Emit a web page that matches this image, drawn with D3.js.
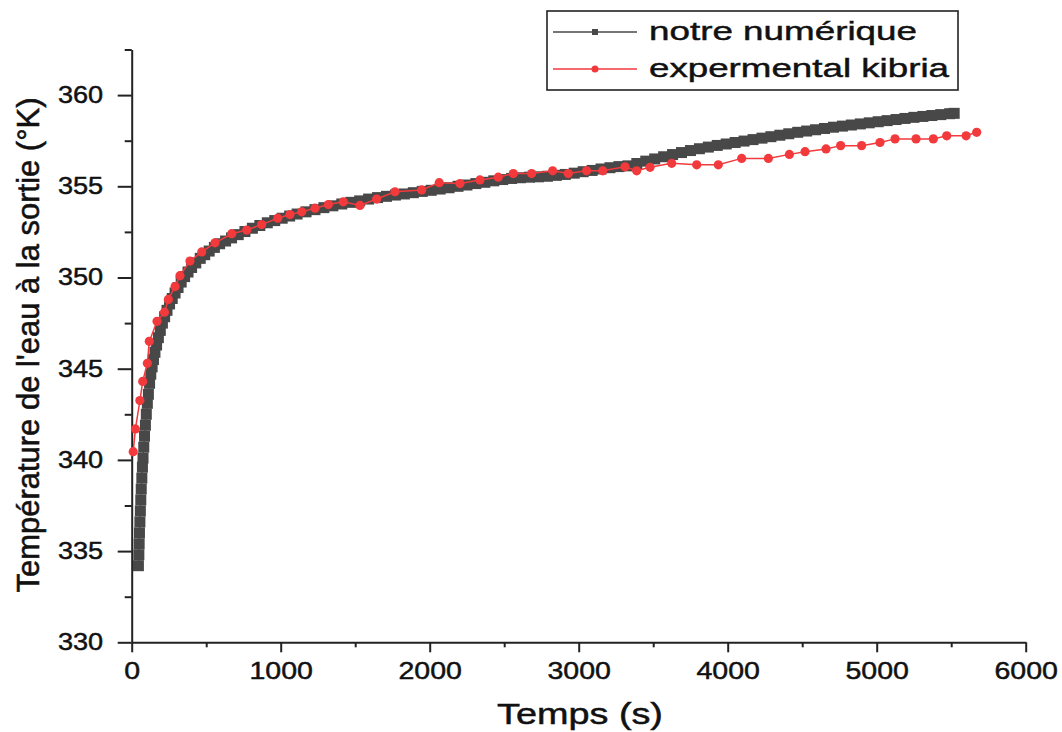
<!DOCTYPE html>
<html>
<head>
<meta charset="utf-8">
<script src="https://cdn.jsdelivr.net/npm/d3@7"></script>
<style>
  body { margin: 0; background: #fff; }
  text { font-family: "Liberation Sans", Arial, sans-serif; fill: #111; stroke: #111; stroke-width: 0.45px; }
</style>
</head>
<body>
<svg id="chart" width="1062" height="732"></svg>
<script>
// ---------------- DATA ----------------
const seriesNames = ["notre numérique", "expermental kibria"];
const xTitle = "Temps (s)";
const yTitle = "Température de l'eau à la sortie (°K)";
const xTicks = [0, 1000, 2000, 3000, 4000, 5000, 6000];
const xMinorTicks = [500, 1500, 2500, 3500, 4500, 5500];
const yTicks = [330, 335, 340, 345, 350, 355, 360];
const yMinorTicks = [332.5, 337.5, 342.5, 347.5, 352.5, 357.5, 362.5];

// numerical series (notre numérique)
const numTime = [45, 48, 50, 52, 55, 58, 61, 64, 68, 72, 76, 81, 86, 92, 98, 105, 112, 120, 128, 137,
  146, 156, 167, 179, 192, 206, 221, 237, 254, 272, 291, 311, 332, 355, 378, 402, 430, 460, 490,
  520, 555, 590, 630, 670, 715, 760, 810, 860, 910, 960, 1010, 1060, 1110, 1170, 1230, 1290, 1350, 1410, 1470,
  1530, 1590, 1650, 1710, 1770, 1830, 1890, 1950, 2010, 2070, 2130, 2190, 2250, 2310, 2370, 2430, 2490, 2550, 2610, 2670,
  2730, 2790, 2850, 2910, 2970, 3030, 3090, 3150, 3210, 3270, 3330, 3390, 3450, 3510, 3570, 3630, 3690, 3750, 3810, 3870,
  3930, 3990, 4050, 4110, 4170, 4230, 4290, 4350, 4410, 4470, 4530, 4590, 4650, 4710, 4770, 4830, 4890, 4950, 5010, 5070,
  5130, 5190, 5250, 5310, 5370, 5430, 5490, 5520];
const numTemp = [334.2, 334.8, 335.4, 336.0, 336.6, 337.2, 337.8, 338.4, 339.0, 339.6, 340.1, 340.7, 341.3, 341.9, 342.5, 343.1, 343.6, 344.2, 344.7, 345.1,
  345.5, 345.9, 346.3, 346.7, 347.1, 347.5, 347.85, 348.2, 348.55, 348.85, 349.15, 349.45, 349.75, 350.05, 350.3, 350.55, 350.8, 351.05, 351.25,
  351.45, 351.65, 351.85, 352.0, 352.17, 352.35, 352.52, 352.7, 352.85, 353.0, 353.12, 353.25, 353.37, 353.48, 353.6, 353.72, 353.83, 353.93, 354.03, 354.12,
  354.2, 354.3, 354.38, 354.45, 354.52, 354.58, 354.65, 354.72, 354.78, 354.85, 354.92, 355.0, 355.07, 355.15, 355.22, 355.3, 355.37, 355.43, 355.47, 355.5,
  355.52, 355.55, 355.6, 355.65, 355.72, 355.8, 355.87, 355.95, 356.02, 356.08, 356.12, 356.25, 356.38, 356.5, 356.62, 356.74, 356.85, 356.96, 357.06, 357.15,
  357.24, 357.32, 357.4, 357.48, 357.56, 357.64, 357.72, 357.8, 357.88, 357.96, 358.03, 358.1, 358.17, 358.24, 358.3, 358.36, 358.42, 358.48, 358.54, 358.6,
  358.66, 358.72, 358.78, 358.83, 358.88, 358.93, 358.98, 359.0];

// experimental series (expermental kibria)
const expTime = [10, 25, 55, 74, 105, 118, 170, 220, 246, 291, 324, 391, 470, 559, 671, 772, 872, 980, 1062, 1141,
  1230, 1320, 1420, 1532, 1644, 1767, 1946, 2064, 2203, 2337, 2460, 2561, 2684, 2825, 2930, 3053, 3161, 3311, 3389, 3479,
  3624, 3792, 3937, 4094, 4273, 4414, 4519, 4660, 4758, 4899, 5022, 5123, 5264, 5380, 5470, 5600, 5671];
const expTemp = [340.45, 341.7, 343.25, 344.3, 345.3, 346.5, 347.6, 348.1, 348.8, 349.5, 350.1, 350.9, 351.4, 351.9, 352.4, 352.6, 352.9, 353.25, 353.45, 353.6,
  353.8, 354.0, 354.15, 353.95, 354.3, 354.7, 354.8, 355.2, 355.15, 355.35, 355.5, 355.7, 355.7, 355.85, 355.7, 355.85, 355.85, 356.07, 355.85, 356.04,
  356.26, 356.18, 356.18, 356.53, 356.53, 356.75, 356.9, 357.05, 357.23, 357.23, 357.4, 357.6, 357.6, 357.6, 357.77, 357.77, 357.96];

// ---------------- CHART ----------------
const colNum = "#484848";
const colExp = "#f23a3d";
const svg = d3.select("#chart");

const x = d3.scaleLinear().domain([0, 6000]).range([131.7, 1025.7]);
const y = d3.scaleLinear().domain([330, 362.5]).range([642.3, 49.5]);

function stretch(sel, k) {
  sel.each(function () {
    const w = this.getComputedTextLength();
    d3.select(this).attr("textLength", w * k).attr("lengthAdjust", "spacingAndGlyphs");
  });
}

// minor ticks
svg.append("g").attr("transform", "translate(0,642.3)")
  .call(d3.axisBottom(x).tickValues(xMinorTicks).tickSize(5).tickFormat("").tickSizeOuter(0))
  .call(g => g.select(".domain").remove())
  .call(g => g.selectAll("line").attr("stroke", "#222").attr("stroke-width", 2));
svg.append("g").attr("transform", "translate(131.7,0)")
  .call(d3.axisLeft(y).tickValues(yMinorTicks).tickSize(7).tickFormat("").tickSizeOuter(0))
  .call(g => g.select(".domain").remove())
  .call(g => g.selectAll("line").attr("stroke", "#222").attr("stroke-width", 2));

// major axes
const gx = svg.append("g").attr("transform", "translate(0,642.3)")
  .call(d3.axisBottom(x).tickValues(xTicks).tickSize(10).tickPadding(10.5).tickSizeOuter(0).tickFormat(d3.format("d")));
gx.select(".domain").attr("stroke", "#222").attr("stroke-width", 2);
gx.selectAll("line").attr("stroke", "#222").attr("stroke-width", 2);
gx.selectAll("text").attr("font-size", 23).attr("fill", "#111");
stretch(gx.selectAll("text"), 1.24);

const gy = svg.append("g").attr("transform", "translate(131.7,0)")
  .call(d3.axisLeft(y).tickValues(yTicks).tickSize(14).tickPadding(14.5).tickSizeOuter(0).tickFormat(d3.format("d")));
gy.select(".domain").attr("stroke", "#222").attr("stroke-width", 2);
gy.selectAll("line").attr("stroke", "#222").attr("stroke-width", 2);
gy.selectAll("text").attr("font-size", 23).attr("fill", "#111");
stretch(gy.selectAll("text"), 1.18);

// axis titles
svg.append("text").attr("transform", "translate(580,724) scale(1.05,1.1)").attr("text-anchor", "middle")
  .attr("font-size", 27).attr("textLength", 158).attr("lengthAdjust", "spacingAndGlyphs").text(xTitle);
svg.append("text").attr("transform", "translate(39,345) rotate(-90) scale(1,1.2)")
  .attr("text-anchor", "middle").attr("font-size", 26)
  .attr("textLength", 495).attr("lengthAdjust", "spacingAndGlyphs").text(yTitle);

// numerical series
const numData = numTime.map((t, i) => [t, numTemp[i]]);
const line = d3.line().x(d => x(d[0])).y(d => y(d[1]));
svg.append("path").datum(numData).attr("d", line).attr("fill", "none")
  .attr("stroke", colNum).attr("stroke-width", 1.2);
const sq = 11;
svg.append("g").selectAll("rect").data(numData).join("rect")
  .attr("x", d => x(d[0]) - sq / 2).attr("y", d => y(d[1]) - sq / 2)
  .attr("width", sq).attr("height", sq).attr("fill", colNum);

// experimental series
const expData = expTime.map((t, i) => [t, expTemp[i]]);
svg.append("path").datum(expData).attr("d", line).attr("fill", "none")
  .attr("stroke", colExp).attr("stroke-width", 1.5);
svg.append("g").selectAll("circle").data(expData).join("circle")
  .attr("cx", d => x(d[0])).attr("cy", d => y(d[1])).attr("r", 4.6).attr("fill", colExp);

// legend
const lg = svg.append("g");
lg.append("rect").attr("x", 547).attr("y", 11).attr("width", 411).attr("height", 79)
  .attr("fill", "#fff").attr("stroke", "#222").attr("stroke-width", 1.6);
const rows = [{ name: seriesNames[0], col: colNum, cy: 32, base: 40, w: 268, shape: "sq" },
              { name: seriesNames[1], col: colExp, cy: 69, base: 77, w: 300, shape: "ci" }];
rows.forEach(r => {
  lg.append("line").attr("x1", 553).attr("x2", 637).attr("y1", r.cy).attr("y2", r.cy)
    .attr("stroke", r.col).attr("stroke-width", 1.4);
  if (r.shape === "sq") lg.append("rect").attr("x", 592).attr("y", r.cy - 3).attr("width", 6).attr("height", 6).attr("fill", r.col);
  else lg.append("circle").attr("cx", 595).attr("cy", r.cy).attr("r", 3.5).attr("fill", r.col);
  lg.append("text").attr("x", 649).attr("y", r.base).attr("font-size", 26)
    .attr("textLength", r.w).attr("lengthAdjust", "spacingAndGlyphs").text(r.name);
});
</script>
</body>
</html>
